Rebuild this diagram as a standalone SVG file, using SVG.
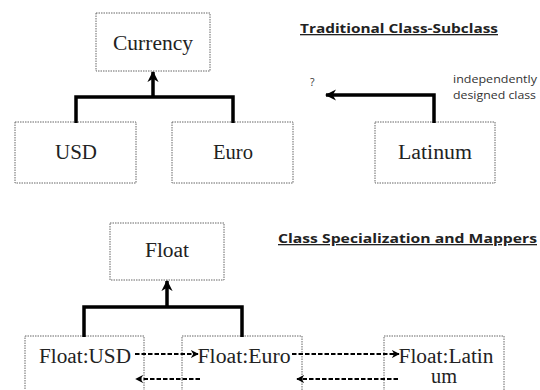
<svg xmlns="http://www.w3.org/2000/svg" width="540" height="390" viewBox="0 0 540 390">
<style>
.box{fill:#fff;stroke:#666;stroke-width:1;stroke-dasharray:1.5,1}
.lbl{font-size:20px;fill:#222;text-anchor:middle}
.title{font-family:"Open Sans","Noto Sans",sans-serif;font-weight:bold;font-size:13px;fill:#222;text-decoration:underline}
.note{font-family:"Open Sans","Noto Sans",sans-serif;font-size:10.5px;fill:#333}
.thick{fill:none;stroke:#000;stroke-width:3.5}
.dash{fill:none;stroke:#000;stroke-width:2;stroke-dasharray:4.5,2}
</style>
<defs>
<marker id="big" viewBox="0 0 10 10" refX="9" refY="5" markerWidth="3.2" markerHeight="3.2" orient="auto" markerUnits="strokeWidth">
<path d="M0,0 L10,5 L0,10 L3,5 Z" fill="#000"/>
</marker>
<marker id="sm" viewBox="0 0 10 10" refX="9" refY="5" markerWidth="4" markerHeight="4" orient="auto" markerUnits="strokeWidth">
<path d="M0,0 L10,5 L0,10 L3,5 Z" fill="#000"/>
</marker>
</defs>
<text class="title" x="300" y="33" textLength="198" lengthAdjust="spacingAndGlyphs">Traditional Class-Subclass</text>
<text class="title" x="278" y="243" textLength="259" lengthAdjust="spacingAndGlyphs">Class Specialization and Mappers</text>
<text class="note" x="310" y="86">?</text>
<text class="note" x="453" y="83" textLength="84" lengthAdjust="spacingAndGlyphs">independently</text>
<text class="note" x="453" y="99" textLength="83" lengthAdjust="spacingAndGlyphs">designed class</text>
<g font-family="Liberation Serif, serif">
<g id="currency"><rect class="box" x="96" y="13" width="114" height="58"/><text class="lbl" x="153" y="50" textLength="80" lengthAdjust="spacingAndGlyphs">Currency</text></g>
<g id="usd"><rect class="box" x="15" y="122" width="121" height="61"/><text class="lbl" x="76" y="159" textLength="42" lengthAdjust="spacingAndGlyphs">USD</text></g>
<g id="euro"><rect class="box" x="172" y="122" width="121" height="61"/><text class="lbl" x="233" y="159" textLength="40" lengthAdjust="spacingAndGlyphs">Euro</text></g>
<g id="latinum"><rect class="box" x="375" y="122" width="120" height="61"/><text class="lbl" x="435" y="159" textLength="74" lengthAdjust="spacingAndGlyphs">Latinum</text></g>
<g id="float"><rect class="box" x="110" y="223" width="114" height="57"/><text class="lbl" x="167" y="257" textLength="44" lengthAdjust="spacingAndGlyphs">Float</text></g>
<g id="float-usd"><rect class="box" x="25" y="336" width="119" height="60"/><text class="lbl" x="85" y="363" textLength="92" lengthAdjust="spacingAndGlyphs">Float:USD</text></g>
<g id="float-euro"><rect class="box" x="182" y="336" width="120" height="60"/><text class="lbl" x="244" y="363" textLength="93" lengthAdjust="spacingAndGlyphs">Float:Euro</text></g>
<g id="float-latinum"><rect class="box" x="384" y="336" width="120" height="60"/><text class="lbl" x="446" y="363" textLength="95" lengthAdjust="spacingAndGlyphs">Float:Latin</text><text class="lbl" x="444" y="383" textLength="26" lengthAdjust="spacingAndGlyphs">um</text></g>
</g>
<g id="connectors">
<path class="thick" d="M76,123 V97 H233 V123"/>
<path class="thick" d="M153,97 V72" marker-end="url(#big)"/>
<path class="thick" d="M434,123 V95 H326" marker-end="url(#big)"/>
<path class="thick" d="M84,337 V307 H242 V337"/>
<path class="thick" d="M167,307 V281" marker-end="url(#big)"/>
<path class="dash" d="M135,354 H198" marker-end="url(#sm)"/>
<path class="dash" d="M200,379 H136" marker-end="url(#sm)"/>
<path class="dash" d="M292,354 H399" marker-end="url(#sm)"/>
<path class="dash" d="M398,379 H297" marker-end="url(#sm)"/>
</g>
</svg>
